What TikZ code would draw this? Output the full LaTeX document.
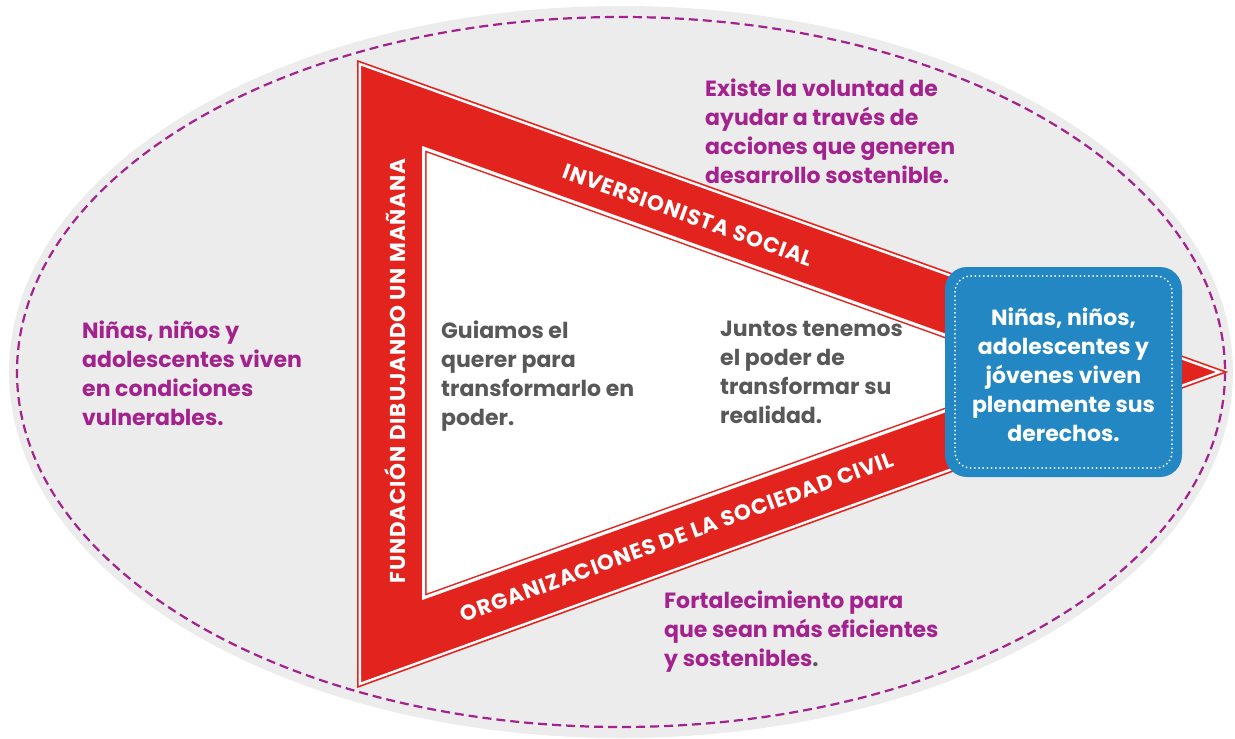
\documentclass[tikz,border=0pt]{standalone}
\usepackage{fontspec}
\setmainfont{Poppins}
\newfontfamily\bandfont[LetterSpace=4]{Poppins}
\definecolor{ebg}{HTML}{ECECEC}
\definecolor{tred}{HTML}{E2231E}
\definecolor{tpurp}{HTML}{A3228D}
\definecolor{tgray}{HTML}{585858}
\definecolor{tblue}{HTML}{2387C3}
\tikzset{
  bodytext/.style={inner sep=0pt, anchor=north west, align=left, font=\bfseries\fontsize{22}{29}\selectfont},
  purptext/.style={bodytext, text=tpurp},
  graytext/.style={bodytext, text=tgray},
  bandtext/.style={inner sep=0pt, text=white, font=\bandfont\bfseries\fontsize{21.5}{22}\selectfont},
  bluebox/.style={draw=none, fill=tblue, rounded corners=22pt, minimum width=237pt, minimum height=210pt, inner sep=0pt},
  dotbox/.style={draw=white, line width=2pt, dash pattern=on 0pt off 4.2pt, line cap=round, rounded corners=16pt, minimum width=217pt, minimum height=192pt, inner sep=0pt},
  ring/.style={draw=tpurp, line width=2.2pt, dash pattern=on 9pt off 5pt}
}
\begin{document}
\begin{tikzpicture}[x=1pt,y=-1pt]
\useasboundingbox (0,0) rectangle (1235,739);
% background ellipse
\fill[ebg] (621,372) ellipse [x radius=612, y radius=366];
\draw[ring] (621,372) ellipse [x radius=604, y radius=355];
% outer triangle
\coordinate (A) at (357,60);
\coordinate (B) at (357,688);
\coordinate (C) at (1228,372);
\fill[tred] (A)--(B)--(C)--cycle;
\begin{scope}
  \clip (A)--(B)--(C)--cycle;
  \draw[white, line width=8pt, line join=miter, miter limit=30] (A)--(B)--(C)--cycle;
  \draw[tred, line width=3pt, line join=miter, miter limit=30] (A)--(B)--(C)--cycle;
\end{scope}
% inner triangle
\coordinate (D) at (422,146);
\coordinate (E) at (422,600);
\coordinate (F) at (1055,373);
\fill[white] (D)--(E)--(F)--cycle;
\begin{scope}
  \clip (D)--(E)--(F)--cycle;
  \draw[tred, line width=9pt, line join=miter, miter limit=30] (D)--(E)--(F)--cycle;
  \draw[white, line width=6pt, line join=miter, miter limit=30] (D)--(E)--(F)--cycle;
\end{scope}
% band labels
\node[bandtext, rotate=90] (fund) at (395,371) {FUNDACIÓN DIBUJANDO UN MAÑANA};
\node[bandtext, rotate=-19.7] (inv) at (688,215) {INVERSIONISTA SOCIAL};
\node[bandtext, rotate=20] (org) at (677,537) {ORGANIZACIONES DE LA SOCIEDAD CIVIL};
% goal box
\node[bluebox] (goal) at (1063.5,372) {};
\node[dotbox] (goalin) at (goal.center) {};
\node[inner sep=0pt, align=center, text=white, font=\bfseries\fontsize{22}{29}\selectfont] (goaltxt) at (1063.5,374.5)
  {Niñas, niños,\\adolescentes y\\jóvenes viven\\plenamente sus\\derechos.};
% side texts
\node[purptext] (left) at (82,321) {Niñas, niños y\\adolescentes viven\\en condiciones\\vulnerables.};
\node[purptext] (top) at (705,79) {Existe la voluntad de\\ayudar a través de\\acciones que generen\\desarrollo sostenible.};
\node[purptext] (bottom) at (664,591) {Fortalecimiento para\\que sean más eficientes\\y sostenibles\textcolor{tgray}{.}};
\node[graytext] (guia) at (441,321) {Guiamos el\\querer para\\transformarlo en\\poder.};
\node[graytext] (junt) at (720,321) {Juntos tenemos\\el poder de\\transformar su\\realidad.};
\end{tikzpicture}
\end{document}
